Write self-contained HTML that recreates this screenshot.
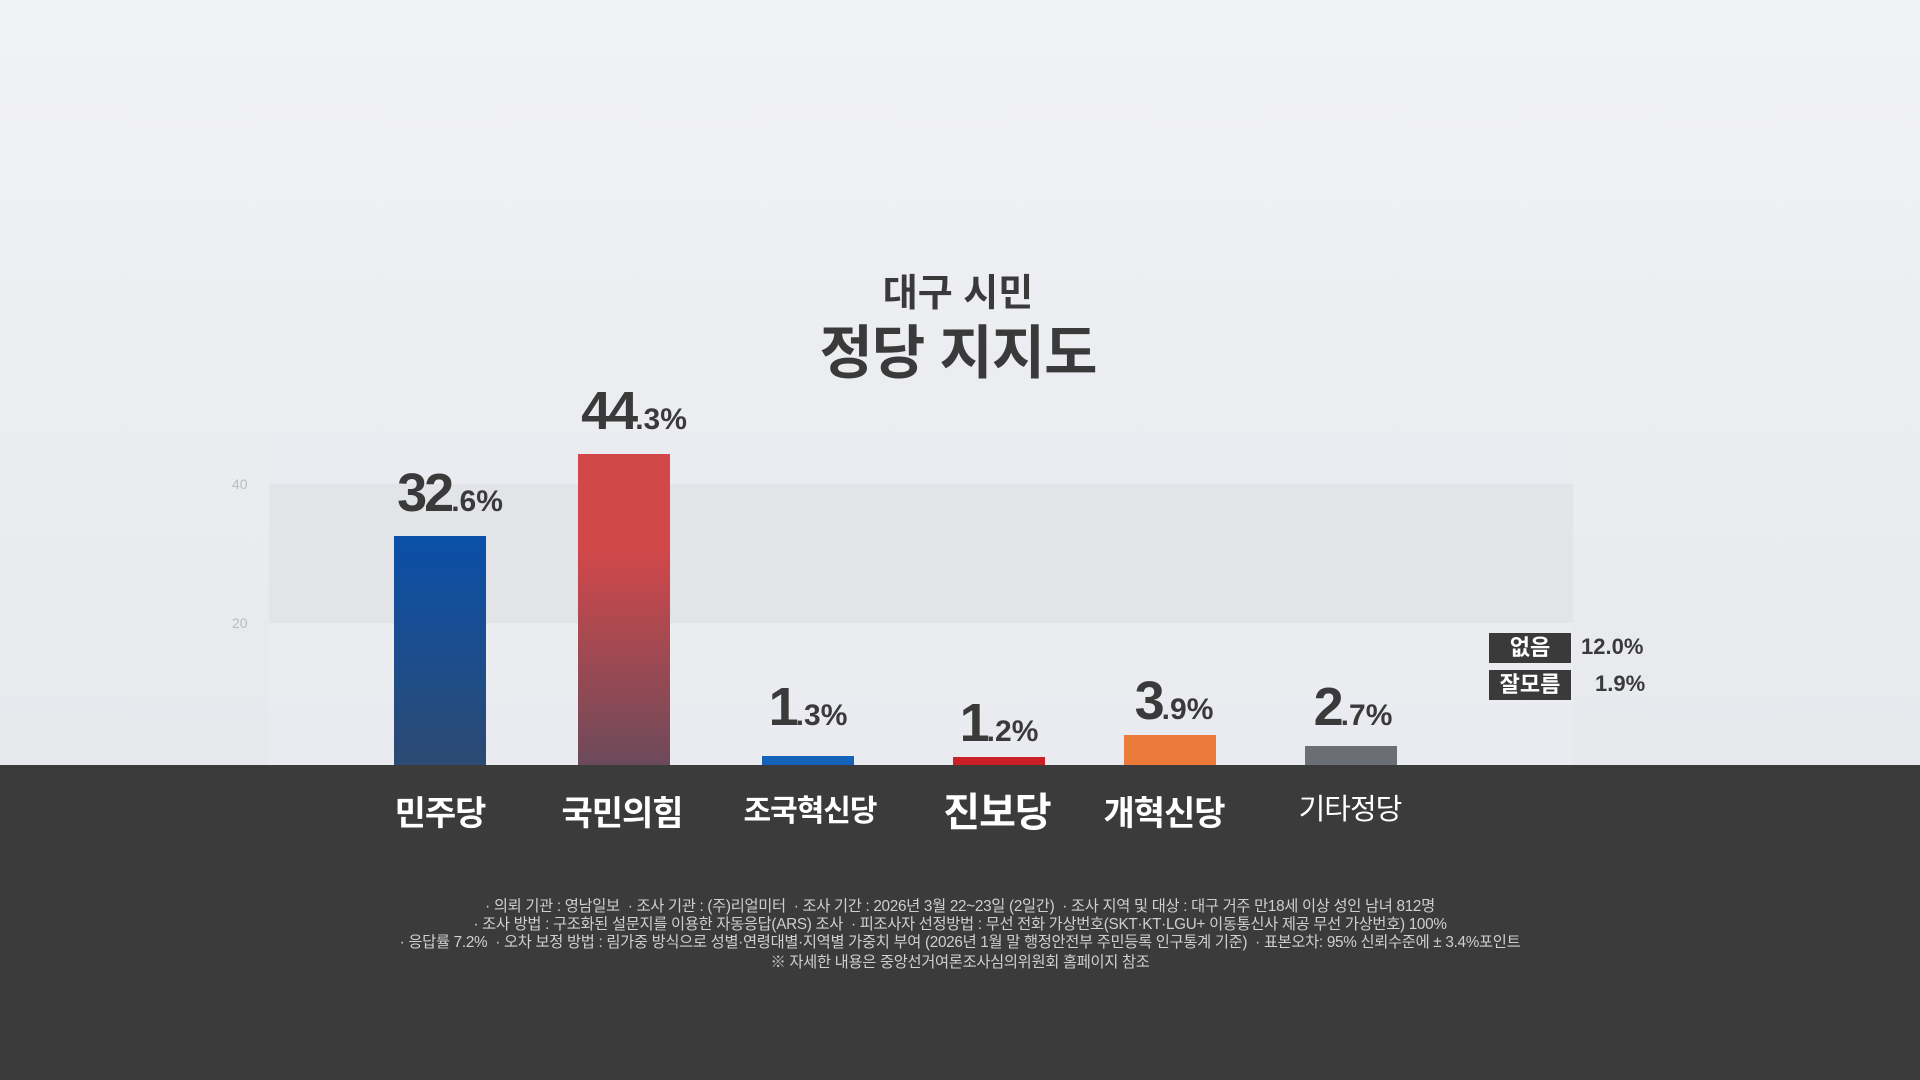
<!DOCTYPE html>
<html><head><meta charset="utf-8"><style>
body{margin:0;width:1920px;height:1080px;overflow:hidden;background:linear-gradient(180deg,#f1f2f5 0%,#e8eaee 60%,#e3e5ea 100%);font-family:"Liberation Sans","Noto Sans CJK KR",sans-serif;position:relative}
.a{position:absolute}
.bar{position:absolute;width:92px;bottom:315px}
.v{position:absolute;color:#3a3a3a;font-weight:bold;white-space:nowrap;text-align:center;width:200px}
.v b{font-size:54px;letter-spacing:-3px}.v s{text-decoration:none;font-size:30px}
.p{position:absolute;top:786px;color:#fff;font-weight:bold;font-size:34px;text-align:center;width:200px;white-space:nowrap;letter-spacing:-1px}
.f{position:absolute;left:0;width:1920px;text-align:center;color:#cfcfcf;font-size:15.3px;letter-spacing:-0.3px}
.lb{position:absolute;left:1489px;width:82px;height:30px;background:#3a3a3a;color:#fff;font-size:22px;font-weight:bold;text-align:center;line-height:30px}
.lv{position:absolute;color:#3a3a3a;font-size:22px;font-weight:bold}
</style></head><body>
<div class="a" style="left:269px;top:340px;width:1304px;height:425px;background:rgba(235,237,241,0.6)"></div>
<div class="a" style="left:269px;top:484px;width:1304px;height:139px;background:#e2e4e8"></div>
<div class="a" style="left:232px;top:476px;color:#b8bbc2;font-size:14px">40</div>
<div class="a" style="left:232px;top:615px;color:#b8bbc2;font-size:14px">20</div>
<div class="a" style="left:0;top:262px;width:1916px;text-align:center;font-size:38px;font-weight:bold;color:#3a3a3a">대구 시민</div>
<div class="a" style="left:0;top:306px;width:1916px;text-align:center;font-size:58px;font-weight:bold;color:#3a3a3a;letter-spacing:-1px">정당 지지도</div>

<div class="bar" style="left:394px;top:536px;background:linear-gradient(#0a4fa8,#2c4a72)"></div>
<div class="bar" style="left:578px;top:454px;background:linear-gradient(#d2484a 30%,#6c4a5a)"></div>
<div class="bar" style="left:762px;top:756px;background:#1463b8"></div>
<div class="bar" style="left:953px;top:757px;background:#cc2028"></div>
<div class="bar" style="left:1124px;top:735px;background:#ec7a3a"></div>
<div class="bar" style="left:1305px;top:746px;background:#6b6e74"></div>

<div class="v" style="left:350px;top:462px"><b>32</b><s>.6%</s></div>
<div class="v" style="left:534px;top:380px"><b>44</b><s>.3%</s></div>
<div class="v" style="left:708px;top:676px"><b>1</b><s>.3%</s></div>
<div class="v" style="left:899px;top:692px"><b>1</b><s>.2%</s></div>
<div class="v" style="left:1074px;top:670px"><b>3</b><s>.9%</s></div>
<div class="v" style="left:1253px;top:676px"><b>2</b><s>.7%</s></div>

<div class="a" style="left:0;top:765px;width:1920px;height:315px;background:#3b3b3b"></div>
<div class="p" style="left:340px">민주당</div>
<div class="p" style="left:522px">국민의힘</div>
<div class="p" style="left:710px;font-size:30px">조국혁신당</div>
<div class="p" style="left:897px;font-size:40px;top:780px">진보당</div>
<div class="p" style="left:1064px">개혁신당</div>
<div class="p" style="left:1250px;font-weight:normal;font-size:29px">기타정당</div>

<div class="f" style="top:894px">· 의뢰 기관 : 영남일보 &nbsp;· 조사 기관 : (주)리얼미터 &nbsp;· 조사 기간 : 2026년 3월 22~23일 (2일간) &nbsp;· 조사 지역 및 대상 : 대구 거주 만18세 이상 성인 남녀 812명</div>
<div class="f" style="top:912px">· 조사 방법 : 구조화된 설문지를 이용한 자동응답(ARS) 조사 &nbsp;· 피조사자 선정방법 : 무선 전화 가상번호(SKT·KT·LGU+ 이동통신사 제공 무선 가상번호) 100%</div>
<div class="f" style="top:930px">· 응답률 7.2% &nbsp;· 오차 보정 방법 : 림가중 방식으로 성별·연령대별·지역별 가중치 부여 (2026년 1월 말 행정안전부 주민등록 인구통계 기준) &nbsp;· 표본오차: 95% 신뢰수준에 ± 3.4%포인트</div>
<div class="f" style="top:950px">※ 자세한 내용은 중앙선거여론조사심의위원회 홈페이지 참조</div>

<div class="lb" style="top:633px">없음</div>
<div class="lv" style="left:1581px;top:634px">12.0%</div>
<div class="lb" style="top:670px">잘모름</div>
<div class="lv" style="left:1595px;top:671px">1.9%</div>
</body></html>
